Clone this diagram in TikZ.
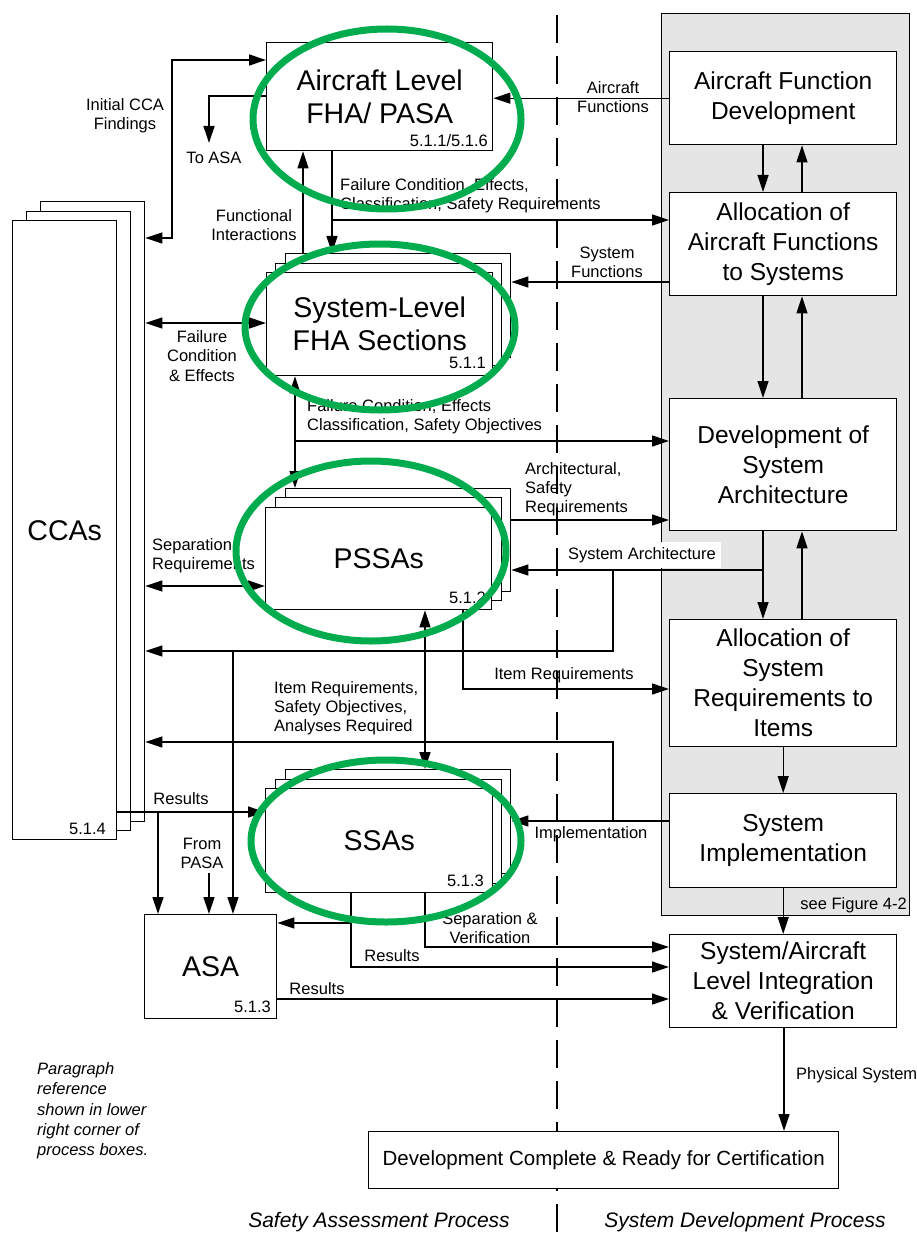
\documentclass[tikz,border=0pt]{standalone}
\usepackage{fontspec}
\setmainfont{Liberation Sans}
\usetikzlibrary{arrows.meta}
\definecolor{hlgreen}{RGB}{0,172,77}
\definecolor{panelgray}{RGB}{229,229,229}
\begin{document}
\begin{tikzpicture}[x=1pt,y=-1pt,
  box/.style={draw, line width=1.4pt, fill=white, inner sep=0pt, anchor=north west, align=center},
  arr/.style={line width=1.3pt, -{Triangle[length=17pt,width=11pt]}},
  darr/.style={line width=1.3pt, {Triangle[length=17pt,width=11pt]}-{Triangle[length=17pt,width=11pt]}},
  lbl/.style={inner sep=0pt, align=center, font=\fontsize{16.5}{19.2}\selectfont},
  big/.style={font=\fontsize{28.5}{33}\selectfont},
  rcol/.style={font=\fontsize{24.5}{30}\selectfont},
  pnum/.style={inner sep=0pt, anchor=east, font=\fontsize{16.5}{19}\selectfont},
  ring/.style={draw=hlgreen, line width=7pt},
  divider/.style={line width=1.6pt, dash pattern=on 28pt off 13pt},
]
\useasboundingbox (0,0) rectangle (917,1233);

% divider line
\draw[divider] (557,15) -- (557,1233);

% gray panel
\node[draw, line width=1.4pt, fill=panelgray, inner sep=0pt, anchor=north west,
      minimum width=248pt, minimum height=902pt] (panel) at (661,13) {};
\node[pnum] at (907,905) {see Figure 4-2};

% right column boxes
\node[box, rcol, minimum width=227pt, minimum height=93pt]  (afd) at (669,51)  {Aircraft Function\\Development};
\node[box, rcol, minimum width=227pt, minimum height=103pt] (aaf) at (669,192) {Allocation of\\Aircraft Functions\\to Systems};
\node[box, rcol, minimum width=227pt, minimum height=132pt] (dsa) at (669,398) {Development of\\System\\Architecture};
\node[box, rcol, minimum width=227pt, minimum height=127pt] (asr) at (669,619) {Allocation of\\System\\Requirements to\\Items};
\node[box, rcol, minimum width=227pt, minimum height=94pt]  (sim) at (669,793) {System\\Implementation};
\node[box, rcol, minimum width=227pt, minimum height=93pt]  (siv) at (669,934) {System/Aircraft\\Level Integration\\\& Verification};
\node[box, font=\fontsize{20.5}{24}\selectfont, minimum width=470pt, minimum height=57pt] (dev) at (368,1131) {Development Complete \& Ready for Certification};

% CCAs stack
\node[box, minimum width=104pt, minimum height=620pt] (ccac) at (40,201) {};
\node[box, minimum width=104pt, minimum height=619pt] (ccab) at (26,211) {};
\node[box, big, minimum width=104pt, minimum height=619pt] (cca) at (12,220) {CCAs};
\node[pnum] at (106,829) {5.1.4};

% Aircraft level FHA
\node[box, big, minimum width=226pt, minimum height=108pt] (fha) at (266,42) {Aircraft Level\\FHA/ PASA};
\node[pnum] at (488,141) {5.1.1/5.1.6};

% System level FHA stack
\node[box, minimum width=225pt, minimum height=104pt] (sfhac) at (285,253) {};
\node[box, minimum width=226pt, minimum height=102pt] (sfhab) at (275,263) {};
\node[box, big, minimum width=226pt, minimum height=103pt] (sfha) at (266,272) {System-Level\\FHA Sections};
\node[pnum] at (486,363) {5.1.1};

% PSSA stack
\node[box, minimum width=225pt, minimum height=103pt] (pssac) at (285,488) {};
\node[box, minimum width=226pt, minimum height=103pt] (pssab) at (275,497) {};
\node[box, big, minimum width=226pt, minimum height=102pt] (pssa) at (265,507) {PSSAs};
\node[pnum] at (486,598) {5.1.2};

% SSA stack
\node[box, minimum width=225pt, minimum height=104pt] (ssac) at (285,769) {};
\node[box, minimum width=226pt, minimum height=104pt] (ssab) at (275,779) {};
\node[box, big, minimum width=227pt, minimum height=104pt] (ssa) at (265,788) {SSAs};
\node[pnum] at (484,881) {5.1.3};

% ASA
\node[box, big, minimum width=132pt, minimum height=104pt] (asa) at (144,914) {ASA};
\node[pnum] at (271,1007) {5.1.3};

% coordinates
\coordinate (toasa) at (209,143);
\coordinate (jsa) at (763,570);
\coordinate (pasa) at (209,873);

% right column connectors
\draw[arr] (afd.south -| 763,0) -- (aaf.north -| 763,0);
\draw[arr] (aaf.north -| 802,0) -- (afd.south -| 802,0);
\draw[arr] (aaf.south -| 763,0) -- (dsa.north -| 763,0);
\draw[arr] (dsa.north -| 802,0) -- (aaf.south -| 802,0);
\draw[arr] (dsa.south -| 763,0) -- (asr.north -| 763,0);
\draw[arr] (asr.north -| 802,0) -- (dsa.south -| 802,0);
\draw[arr] (asr.south) -- (sim.north);
\draw[arr] (sim.south) -- (siv.north);
\draw[arr] (siv.south -| 784,0) -- (dev.north -| 784,0);

% FHA connectors
\draw[arr] (afd.west) -- (afd.west -| fha.east);
\draw[darr] (fha.west |- 0,60) -- (172,60) -- (172,238) -- (ccac.east |- 0,238);
\draw[arr] (fha.west |- 0,96) -| (toasa);
\draw[arr] (sfhac.north -| 303,0) -- (fha.south -| 303,0);
\draw[arr] (fha.south -| 332,0) -- (sfhac.north -| 332,0);
\draw[arr] (332,220) -- (aaf.west |- 0,220);

% System FHA connectors
\draw[arr] (aaf.west |- 0,282) -- (sfhac.east |- 0,282);
\draw[darr] (ccac.east |- 0,323) -- (sfha.west |- 0,323);
\draw[darr] (sfha.south -| 295,0) -- (pssac.north -| 295,0);
\draw[arr] (295,441) -- (dsa.west |- 0,441);

% PSSA connectors
\draw[arr] (pssac.east |- 0,520) -- (dsa.west |- 0,520);
\draw[arr] (jsa) -- (jsa -| pssac.east);
\draw[arr] (jsa -| 613,0) -- (613,651) -- (ccac.east |- 0,651);
\draw[arr] (233,651) -- (asa.north -| 233,0);
\draw[darr] (ccac.east |- 0,586) -- (pssa.west |- 0,586);
\draw[arr] (pssa.south -| 463,0) |- (asr.west |- 0,689);
\draw[darr] (pssa.south -| 425,0) -- (ssac.north -| 425,0);

% SSA connectors
\draw[arr] (sim.west |- 0,821) -- (ssac.east |- 0,821);
\draw[arr] (613,821) -- (613,742) -- (ccac.east |- 0,742);
\draw[arr] (cca.east |- 0,812) -- (ssa.west |- 0,812);
\draw[arr] (158,812) -- (asa.north -| 158,0);
\draw[arr] (pasa) -- (asa.north -| pasa);
\draw[arr] (ssa.south -| 351,0) |- (siv.west |- 0,967);
\draw[arr] (351,923) -- (asa.east |- 0,923);
\draw[arr] (ssa.south -| 425,0) |- (siv.west |- 0,947);
\draw[arr] (asa.east |- 0,999) -- (siv.west |- 0,999);

% labels
\node[lbl] at (613,97) {Aircraft\\Functions};
\node[lbl] at (125,116) {Initial CCA\\Findings};
\node[lbl] at (214,158) {To ASA};
\node[lbl] at (254,225) {Functional\\Interactions};
\node[lbl, anchor=west, align=left] at (340,196) {Failure Condition, Effects,\\Classification, Safety Requirements};
\node[lbl] at (607,262) {System\\Functions};
\node[lbl] at (202,356) {Failure\\Condition\\\& Effects};
\node[lbl, anchor=west, align=left] at (307,417) {Failure Condition, Effects\\Classification, Safety Objectives};
\node[lbl, anchor=west, align=left] at (525,489) {Architectural,\\Safety\\Requirements};
\node[lbl, anchor=west, fill=white, inner xsep=5pt, inner ysep=5pt] at (563,555) {System Architecture};
\node[lbl, anchor=west, align=left] at (152,556) {Separation\\Requirements};
\node[lbl] at (564,675) {Item Requirements};
\node[lbl, anchor=west, align=left] at (274,708) {Item Requirements,\\Safety Objectives,\\Analyses Required};
\node[lbl] at (181,799) {Results};
\node[lbl] at (202,853) {From\\PASA};
\node[lbl] at (591,834) {Implementation};
\node[lbl] at (490,928) {Separation \&\\Verification};
\node[lbl] at (392,956) {Results};
\node[lbl] at (317,989) {Results};
\node[lbl, anchor=west] at (796,1075) {Physical System};

\node[lbl, anchor=west, align=left, font=\itshape\fontsize{16.5}{20.3}\selectfont] at (37,1111)
  {Paragraph\\reference\\shown in lower\\right corner of\\process boxes.};
\node[lbl, font=\itshape\fontsize{21}{24}\selectfont] at (379,1222) {Safety Assessment Process};
\node[lbl, font=\itshape\fontsize{21}{24}\selectfont] at (745,1222) {System Development Process};

% green highlight rings
\draw[ring] (387,119) ellipse [x radius=134, y radius=90];
\draw[ring] (380,327) ellipse [x radius=135, y radius=83];
\draw[ring] (371,551) ellipse [x radius=135, y radius=90];
\draw[ring] (386,841) ellipse [x radius=135, y radius=81];
\end{tikzpicture}
\end{document}
